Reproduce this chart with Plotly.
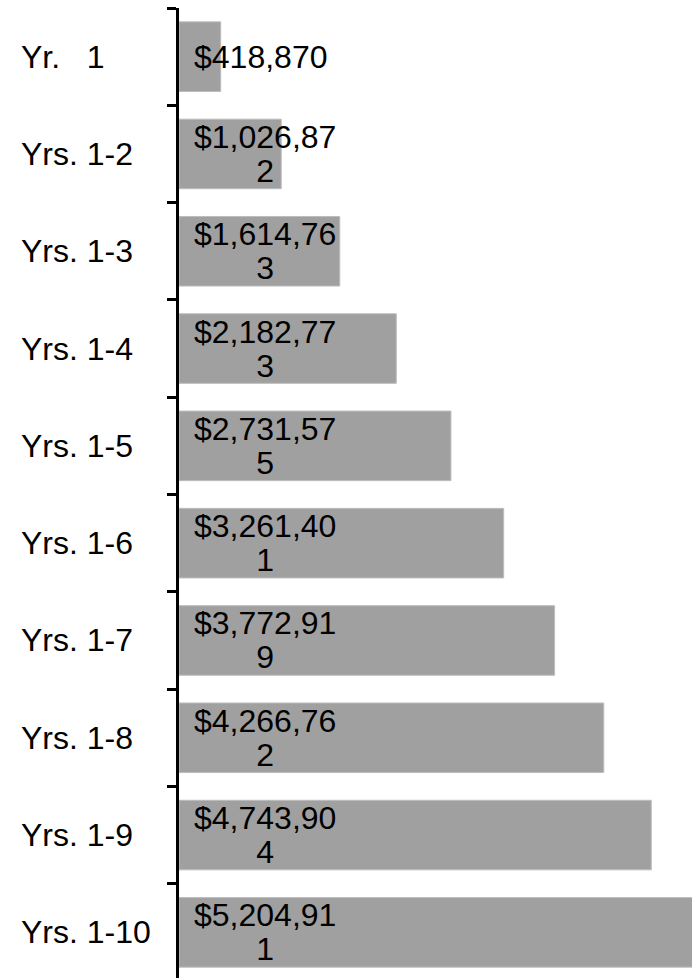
import plotly.graph_objects as go

# Cumulative totals by period
categories = ["Yr.   1", "Yrs. 1-2", "Yrs. 1-3", "Yrs. 1-4", "Yrs. 1-5",
              "Yrs. 1-6", "Yrs. 1-7", "Yrs. 1-8", "Yrs. 1-9", "Yrs. 1-10"]
values = [418870, 1026872, 1614763, 2182773, 2731575,
          3261401, 3772919, 4266762, 4743904, 5204911]

BAR_COLOR = "#a0a0a0"
FONT = "Liberation Sans, Arial, sans-serif"
LABEL_SIZE = 32
LINE_GAP = 26.4  # line pitch = 1.3 * this size


def money_label(v, width=9):
    """Format as currency and wrap onto a second line like a narrow label box."""
    s = "${:,}".format(v)
    parts = [s[i:i + width] for i in range(0, len(s), width)]
    return "<br>".join(
        '<span style="font-size:{}px">{}</span>'.format(LABEL_SIZE, p) for p in parts
    )


fig = go.Figure(
    go.Bar(
        x=values,
        y=categories,
        orientation="h",
        marker=dict(color=BAR_COLOR, line=dict(color="#bdbdbd", width=1)),
        hoverinfo="skip",
    )
)

annotations = []
for cat, v in zip(categories, values):
    # value label, anchored at the bar base
    annotations.append(dict(
        x=0, y=cat, xref="x", yref="y",
        xanchor="left", yanchor="middle", xshift=13,
        text=money_label(v), align="center", showarrow=False,
        font=dict(family=FONT, size=LINE_GAP, color="#000000"),
    ))
    # category label, left aligned
    annotations.append(dict(
        x=0, y=cat, xref="paper", yref="y",
        xanchor="left", yanchor="middle", xshift=-160,
        text=cat.replace(" ", "\u00a0"), align="left", showarrow=False,
        font=dict(family=FONT, size=LABEL_SIZE, color="#000000"),
    ))

fig.update_layout(
    width=692, height=978,
    margin=dict(l=179, r=0, t=8, b=0),
    paper_bgcolor="#ffffff", plot_bgcolor="#ffffff",
    bargap=0.285,
    showlegend=False,
    annotations=annotations,
    font=dict(family=FONT, size=LABEL_SIZE, color="#000000"),
)
fig.update_xaxes(
    range=[0, 5153000], visible=False, showgrid=False, zeroline=False,
)
fig.update_yaxes(
    type="category", categoryorder="array", categoryarray=categories,
    range=[9.469, -0.5],
    showticklabels=False, showgrid=False, zeroline=False,
    showline=True, linecolor="#000000", linewidth=3,
    ticks="outside", tickson="boundaries", ticklen=9, tickwidth=3, tickcolor="#000000",
)

fig.write_html("out.html")
